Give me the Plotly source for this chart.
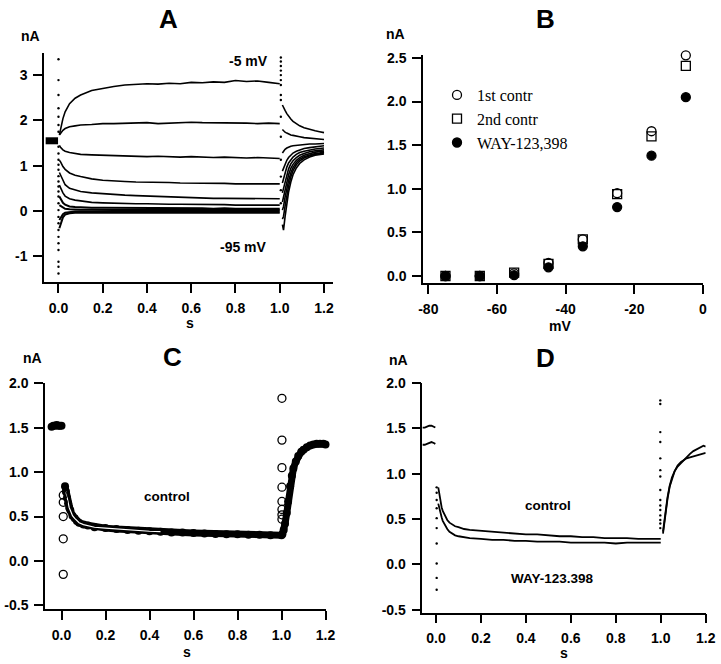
import plotly.graph_objects as go

W, H = 721, 664

# ---------------- Panel A data ----------------
hold_t_A = [-0.058, -0.045, -0.03, -0.015, -0.002]
hold_A = [1.55, 1.55, 1.56, 1.55, 1.55]

step_t_A = [0.004, 0.01, 0.02, 0.03, 0.05, 0.075, 0.1, 0.15, 0.2, 0.25, 0.3, 0.35, 0.4,
            0.45, 0.5, 0.55, 0.6, 0.65, 0.7, 0.75, 0.8, 0.85, 0.9, 0.95, 1.0]
step_A = {
    "-5": [1.68, 1.85, 2.04, 2.19, 2.37, 2.49, 2.56, 2.66, 2.71, 2.75, 2.78, 2.80, 2.81,
           2.80, 2.82, 2.81, 2.84, 2.83, 2.85, 2.84, 2.88, 2.86, 2.87, 2.84, 2.81],
    "-15": [1.68, 1.72, 1.78, 1.82, 1.86, 1.88, 1.90, 1.91, 1.93, 1.93, 1.94, 1.94, 1.95,
            1.93, 1.94, 1.95, 1.96, 1.95, 1.95, 1.94, 1.95, 1.94, 1.93, 1.94, 1.93],
    "-25": [1.45, 1.40, 1.35, 1.32, 1.29, 1.27, 1.25, 1.24, 1.23, 1.22, 1.21, 1.21, 1.20,
            1.21, 1.20, 1.19, 1.20, 1.19, 1.18, 1.19, 1.18, 1.17, 1.18, 1.17, 1.16],
    "-35": [1.12, 1.08, 0.98, 0.92, 0.84, 0.79, 0.76, 0.71, 0.68, 0.66, 0.65, 0.64, 0.64,
            0.63, 0.63, 0.62, 0.62, 0.61, 0.61, 0.61, 0.60, 0.60, 0.60, 0.60, 0.60],
    "-45": [0.85, 0.78, 0.66, 0.58, 0.50, 0.46, 0.43, 0.40, 0.38, 0.36, 0.35, 0.34, 0.33,
            0.32, 0.31, 0.30, 0.29, 0.29, 0.28, 0.28, 0.28, 0.27, 0.27, 0.27, 0.27],
    "-55": [0.57, 0.50, 0.40, 0.33, 0.27, 0.24, 0.22, 0.19, 0.18, 0.17, 0.17, 0.16, 0.16,
            0.15, 0.15, 0.15, 0.15, 0.14, 0.14, 0.14, 0.13, 0.13, 0.13, 0.13, 0.13],
    "-65": [0.32, 0.27, 0.18, 0.14, 0.10, 0.09, 0.08, 0.07, 0.07, 0.07, 0.06, 0.06, 0.06,
            0.06, 0.06, 0.06, 0.06, 0.06, 0.05, 0.06, 0.05, 0.05, 0.05, 0.05, 0.05],
    "-75": [0.13, 0.11, 0.07, 0.05, 0.04, 0.03, 0.03, 0.03, 0.02, 0.02, 0.02, 0.02, 0.02,
            0.02, 0.02, 0.02, 0.02, 0.02, 0.02, 0.02, 0.02, 0.02, 0.02, 0.02, 0.02],
    "-85": [-0.20, -0.14, -0.07, -0.04, -0.02, -0.01, -0.01, -0.01, -0.01, -0.01, -0.01,
            -0.01, -0.01, -0.01, -0.01, -0.01, -0.01, -0.01, -0.01, -0.01, -0.01, -0.01,
            -0.01, -0.01, -0.01],
    "-95": [-0.38, -0.28, -0.14, -0.08, -0.05, -0.04, -0.04, -0.04, -0.04, -0.04, -0.04,
            -0.04, -0.04, -0.04, -0.04, -0.04, -0.04, -0.04, -0.04, -0.04, -0.04, -0.04,
            -0.04, -0.04, -0.04],
}

tail_t_A = [1.012, 1.017, 1.024, 1.032, 1.04, 1.05, 1.06, 1.075, 1.09, 1.11, 1.135, 1.16, 1.18, 1.2]
tail_A = {
    "-5": [2.34, 2.28, 2.22, 2.15, 2.09, 2.03, 1.98, 1.93, 1.88, 1.84, 1.80, 1.77, 1.75, 1.73],
    "-15": [1.80, 1.77, 1.74, 1.72, 1.70, 1.68, 1.67, 1.66, 1.64, 1.62, 1.61, 1.60, 1.59, 1.58],
    "-25": [1.28, 1.32, 1.36, 1.39, 1.41, 1.43, 1.44, 1.45, 1.46, 1.47, 1.48, 1.48, 1.49, 1.49],
    "-35": [0.88, 0.95, 1.04, 1.12, 1.18, 1.24, 1.28, 1.32, 1.35, 1.38, 1.40, 1.42, 1.43, 1.44],
    "-45": [0.62, 0.72, 0.85, 0.97, 1.06, 1.14, 1.19, 1.25, 1.29, 1.32, 1.35, 1.37, 1.38, 1.39],
    "-55": [0.40, 0.50, 0.66, 0.81, 0.93, 1.04, 1.11, 1.18, 1.23, 1.27, 1.31, 1.33, 1.34, 1.35],
    "-65": [0.20, 0.30, 0.48, 0.66, 0.80, 0.94, 1.03, 1.12, 1.18, 1.23, 1.27, 1.30, 1.31, 1.32],
    "-75": [0.02, 0.10, 0.30, 0.50, 0.67, 0.84, 0.96, 1.07, 1.14, 1.20, 1.24, 1.27, 1.28, 1.30],
    "-85": [-0.18, -0.12, 0.10, 0.35, 0.55, 0.75, 0.89, 1.02, 1.10, 1.17, 1.22, 1.25, 1.27, 1.28],
    "-95": [-0.30, -0.42, -0.13, 0.20, 0.42, 0.64, 0.80, 0.95, 1.05, 1.13, 1.19, 1.23, 1.25, 1.26],
}

dots_on_A = [3.35, 2.89, 2.56, 2.27, 2.08, 1.90, 1.75, 1.42, 1.27, 1.13, 1.02, 0.91, 0.77,
             0.65, 0.54, 0.43, 0.32, 0.17, 0.02, -0.13, -0.27, -0.42, -0.57, -0.71, -0.86,
             -1.12, -1.23, -1.38]
dots_off_A = [3.39, 3.30, 3.20, 3.10, 3.00, 2.89, 2.78, 2.56, 2.45, 2.08, 1.64, 1.13, 0.76,
              0.46, 0.17]
t_on_A, t_off_A = 0.0, 1.005

# ---------------- Panel B data ----------------
mV = [-75, -65, -55, -45, -35, -25, -15, -5]
contr1 = [0.0, 0.0, 0.03, 0.15, 0.42, 0.95, 1.66, 2.53]
contr2 = [0.0, 0.0, 0.04, 0.14, 0.42, 0.94, 1.60, 2.41]
way = [0.0, 0.0, 0.01, 0.10, 0.34, 0.79, 1.38, 2.05]

# ---------------- Panel C data ----------------
hold_t_C = [-0.045, -0.037, -0.03, -0.022, -0.015, -0.008, 0.0]
hold_C = [1.51, 1.52, 1.52, 1.53, 1.52, 1.52, 1.52]
trans_on_t_C = 0.008
trans_on_C = [-0.15, 0.25, 0.50, 0.66, 0.74]
step_t_C = [0.016, 0.02, 0.025, 0.03, 0.035, 0.04, 0.05, 0.06, 0.07, 0.08, 0.1, 0.12, 0.15,
            0.2, 0.25, 0.3, 0.35, 0.4, 0.45, 0.5, 0.55, 0.6, 0.65, 0.7, 0.75, 0.8, 0.85,
            0.9, 0.95, 1.0]
step_C = [0.84, 0.78, 0.71, 0.65, 0.60, 0.57, 0.51, 0.48, 0.45, 0.43, 0.41, 0.40, 0.38,
          0.37, 0.36, 0.35, 0.34, 0.335, 0.33, 0.32, 0.32, 0.315, 0.31, 0.305, 0.30, 0.30,
          0.295, 0.295, 0.29, 0.29]
trans_off_t_C = 1.002
trans_off_C = [1.83, 1.36, 1.05, 0.83, 0.67, 0.58, 0.52, 0.47]
tail_t_C = [1.004, 1.01, 1.016, 1.024, 1.03, 1.039, 1.047, 1.054, 1.065, 1.076, 1.09, 1.1,
            1.115, 1.13, 1.145, 1.16, 1.175, 1.19, 1.2]
tail_C = [0.30, 0.35, 0.42, 0.54, 0.67, 0.84, 0.96, 1.04, 1.12, 1.18, 1.23, 1.25, 1.28,
          1.30, 1.31, 1.32, 1.32, 1.32, 1.31]

# ---------------- Panel D data ----------------
hold_t_D = [-0.06, -0.05, -0.04, -0.03, -0.02, -0.01, -0.003]
hold_ctrl_D = [1.51, 1.51, 1.52, 1.53, 1.53, 1.52, 1.51]
hold_way_D = [1.32, 1.32, 1.33, 1.34, 1.35, 1.34, 1.33]
step_t_D = [0.01, 0.015, 0.02, 0.025, 0.03, 0.04, 0.05, 0.06, 0.07, 0.085, 0.1, 0.125, 0.15,
            0.2, 0.25, 0.3, 0.35, 0.4, 0.45, 0.5, 0.55, 0.6, 0.65, 0.7, 0.75, 0.8, 0.85,
            0.9, 0.95, 1.0]
step_ctrl_D = [0.85, 0.76, 0.69, 0.63, 0.59, 0.53, 0.49, 0.46, 0.44, 0.42, 0.41, 0.39, 0.38,
               0.37, 0.36, 0.35, 0.34, 0.33, 0.33, 0.32, 0.31, 0.31, 0.30, 0.30, 0.29, 0.29,
               0.29, 0.28, 0.28, 0.28]
step_way_D = [0.67, 0.61, 0.56, 0.52, 0.48, 0.43, 0.39, 0.36, 0.34, 0.32, 0.31, 0.30, 0.29,
              0.28, 0.27, 0.27, 0.26, 0.26, 0.25, 0.25, 0.25, 0.24, 0.24, 0.24, 0.24, 0.23,
              0.24, 0.24, 0.24, 0.24]
tail_t_D = [1.01, 1.015, 1.02, 1.025, 1.03, 1.04, 1.05, 1.062, 1.075, 1.09, 1.1, 1.115, 1.13,
            1.145, 1.16, 1.175, 1.19, 1.2]
tail_ctrl_D = [0.34, 0.45, 0.55, 0.64, 0.72, 0.86, 0.95, 1.03, 1.08, 1.12, 1.15, 1.19, 1.22,
               1.25, 1.27, 1.29, 1.31, 1.30]
tail_way_D = [0.36, 0.47, 0.57, 0.66, 0.74, 0.87, 0.96, 1.03, 1.09, 1.13, 1.15, 1.17, 1.18,
              1.19, 1.20, 1.21, 1.22, 1.23]
t_on_D, t_off_D = 0.003, 0.998
dots_on_D = [0.85, 0.79, 0.71, 0.62, 0.51, 0.40, 0.23, 0.01, -0.15, -0.28]
dots_off_D = [1.81, 1.77, 1.46, 1.35, 1.17, 1.04, 0.97, 0.82, 0.71, 0.65, 0.60, 0.54, 0.49,
              0.45, 0.40]

# tick labels
ticks_A_y = [-1, 0, 1, 2, 3]
ticks_A_y_text = ["-1", "0", "1", "2", "3"]
ticks_s = [0.0, 0.2, 0.4, 0.6, 0.8, 1.0, 1.2]
ticks_s_text = ["0.0", "0.2", "0.4", "0.6", "0.8", "1.0", "1.2"]
ticks_B_x = [-80, -60, -40, -20, 0]
ticks_B_x_text = ["-80", "-60", "-40", "-20", "0"]
ticks_B_y = [0, 0.5, 1.0, 1.5, 2.0, 2.5]
ticks_B_y_text = ["0.0", "0.5", "1.0", "1.5", "2.0", "2.5"]
ticks_CD_y = [-0.5, 0, 0.5, 1.0, 1.5, 2.0]
ticks_CD_y_text = ["-0.5", "0.0", "0.5", "1.0", "1.5", "2.0"]

BLACK = "black"
SANS = "Liberation Sans, Arial, sans-serif"
fig = go.Figure()

def line(x, y, ax, w=1.5, color=BLACK, shape="linear"):
    fig.add_trace(go.Scatter(x=x, y=y, mode="lines", xaxis=ax[0], yaxis=ax[1],
                             line=dict(color=color, width=w, shape=shape),
                             showlegend=False, hoverinfo="skip"))

def dots(x, y, ax, size=2.4):
    fig.add_trace(go.Scatter(x=x, y=y, mode="markers", xaxis=ax[0], yaxis=ax[1],
                             marker=dict(color=BLACK, size=size), cliponaxis=False,
                             showlegend=False, hoverinfo="skip"))

# Panel A
axA = ("x", "y")
line(hold_t_A, hold_A, axA, w=7)
for k in step_A:
    w = 2.0 if k in ("-65", "-75", "-85", "-95") else 1.6
    line(step_t_A, step_A[k], axA, w=w)
    line(tail_t_A, tail_A[k], axA, w=1.6)
dots([t_on_A] * len(dots_on_A), dots_on_A, axA)
dots([t_off_A] * len(dots_off_A), dots_off_A, axA)

# Panel B
for name, vals, sym in (("1st contr", contr1, "circle-open"),
                        ("2nd contr", contr2, "square-open"),
                        ("WAY-123,398", way, "circle")):
    fig.add_trace(go.Scatter(x=mV, y=vals, mode="markers", name=name,
                             xaxis="x2", yaxis="y2", cliponaxis=False,
                             marker=dict(symbol=sym, size=9, color=BLACK,
                                         line=dict(width=1.3, color=BLACK))))

# Panel C
axC = ("x3", "y3")
for tx, vy, w in ((hold_t_C, hold_C, 6), (step_t_C, step_C, 7), (tail_t_C, tail_C, 7)):
    fig.add_trace(go.Scatter(x=tx, y=vy, mode="lines+markers", xaxis="x3", yaxis="y3",
                             line=dict(color=BLACK, width=w),
                             marker=dict(color=BLACK, size=8), cliponaxis=False,
                             showlegend=False, hoverinfo="skip"))
line(step_t_C[1:19], step_C[1:19], axC, w=1.2, color="white")
for tt, vals in ((trans_on_t_C, trans_on_C), (trans_off_t_C, trans_off_C)):
    fig.add_trace(go.Scatter(x=[tt] * len(vals), y=vals, mode="markers",
                             xaxis="x3", yaxis="y3",
                             marker=dict(symbol="circle-open", size=8, color=BLACK,
                                         line=dict(width=1.3)),
                             showlegend=False, hoverinfo="skip"))

# Panel D
axD = ("x4", "y4")
line(hold_t_D, hold_ctrl_D, axD, w=1.8)
line(hold_t_D, hold_way_D, axD, w=1.8)
line(step_t_D, step_ctrl_D, axD, w=1.8)
line(step_t_D, step_way_D, axD, w=1.8)
line(tail_t_D, tail_ctrl_D, axD, w=1.8)
line(tail_t_D, tail_way_D, axD, w=1.8)
dots([t_on_D] * len(dots_on_D), dots_on_D, axD)
dots([t_off_D] * len(dots_off_D), dots_off_D, axD)

# ---------------- layout ----------------
def px_x(p):
    return p / W

def px_y(p):
    return 1 - p / H

TICKFONT = dict(family=SANS, size=14, color=BLACK, weight="bold")

def axis(domain, rng, tv, tt, anchor):
    return dict(domain=domain, range=rng, tickvals=tv, ticktext=tt, anchor=anchor,
                showline=True, linecolor=BLACK, linewidth=1.5, ticks="outside",
                ticklen=9, tickwidth=1.5, tickcolor=BLACK, showgrid=False,
                zeroline=False, tickfont=TICKFONT, ticklabelstandoff=3,
                automargin=False, fixedrange=True)

layout = dict(
    width=W, height=H, margin=dict(l=0, r=0, t=0, b=0, autoexpand=False),
    paper_bgcolor="white", plot_bgcolor="white",
    xaxis=axis([px_x(44), px_x(333)], [-0.0655, 1.2407], ticks_s, ticks_s_text, "y"),
    yaxis=axis([px_y(282), px_y(53)], [-1.567, 3.488], ticks_A_y, ticks_A_y_text, "x"),
    xaxis2=axis([px_x(423), px_x(703)], [-81.54, 0.0], ticks_B_x, ticks_B_x_text, "y2"),
    yaxis2=axis([px_y(283), px_y(55)], [-0.08, 2.534], ticks_B_y, ticks_B_y_text, "x2"),
    xaxis3=axis([px_x(45), px_x(325.5)], [-0.075, 1.2], ticks_s, ticks_s_text, "y3"),
    yaxis3=axis([px_y(609.3), px_y(383)], [-0.543, 2.002], ticks_CD_y, ticks_CD_y_text, "x3"),
    xaxis4=axis([px_x(422.3), px_x(705.7)], [-0.061, 1.2], ticks_s, ticks_s_text, "y4"),
    yaxis4=axis([px_y(612.7), px_y(383)], [-0.534, 2.002], ticks_CD_y, ticks_CD_y_text, "x4"),
    showlegend=True,
    legend=dict(x=px_x(437), y=px_y(78), xanchor="left", yanchor="top",
                bgcolor="rgba(0,0,0,0)", itemwidth=30, tracegroupgap=0,
                font=dict(family="Liberation Serif, Times New Roman, serif", size=16,
                          color=BLACK)),
)
fig.update_layout(**layout)

def ann(text, xp, yp, size=14, bold=True, family=SANS):
    fig.add_annotation(text=f"<b>{text}</b>" if bold else text, x=px_x(xp), y=px_y(yp),
                       xref="paper", yref="paper", showarrow=False,
                       xanchor="center", yanchor="middle",
                       font=dict(family=family, size=size, color=BLACK))

# panel letters
ann("A", 168, 19, size=26)
ann("B", 545, 19, size=26)
ann("C", 172.5, 357, size=26)
ann("D", 545, 358, size=26)
# units
ann("nA", 30, 36, size=14)
ann("nA", 395, 34, size=14)
ann("nA", 32, 358, size=14)
ann("nA", 398, 360, size=14)
ann("s", 190, 323, size=14)
ann("mV", 560, 326, size=14)
ann("s", 187, 652, size=14)
ann("s", 564, 653, size=14)
# inline labels
ann("-5 mV", 248, 61, size=14)
ann("-95 mV", 243, 247, size=14)
ann("control", 167, 496, size=13.5)
ann("control", 548, 505, size=13.5)
ann("WAY-123.398", 552, 578, size=13.5)

fig.write_html("out.html", config={"displayModeBar": False},
               post_script="document.body.style.margin='0';"
                           "document.body.style.overflow='hidden';")
